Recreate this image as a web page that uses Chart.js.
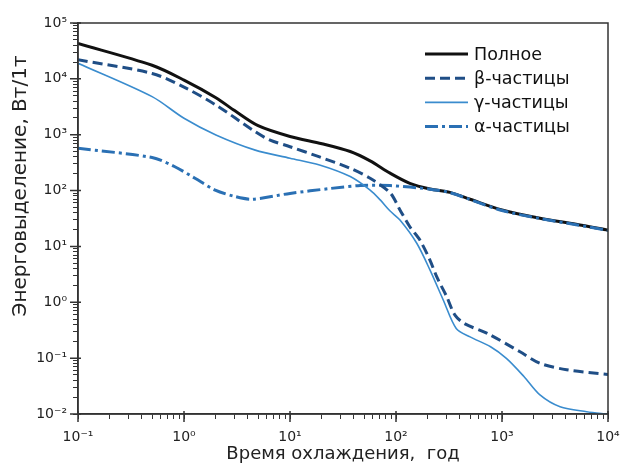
<!DOCTYPE html>
<html>
<head>
<meta charset="utf-8">
<script src="https://cdn.jsdelivr.net/npm/chart.js@4.4.0/dist/chart.umd.min.js"></script>
<style>
html, body { margin: 0; padding: 0; background: #fff; }
</style>
</head>
<body>
<canvas id="heat" width="620" height="470"></canvas>
<script>
// время охлаждения (годы) и энерговыделение (Вт/т)
const totalX = [0.1, 0.5, 1, 2, 3, 5, 10, 20, 37, 57, 88, 135, 209, 323, 500, 1000, 2280, 5000, 10000];
const totalY = [43000, 17500, 9500, 4600, 2700, 1450, 930, 690, 500, 340, 205, 135, 107, 93, 70, 45, 32, 25, 19.5];

const betaX = [0.1, 0.5, 1, 2, 4.7, 6.5, 10, 19, 37, 57, 88, 109, 135, 168, 209, 242, 301, 360, 448, 718, 1480, 2280, 4070, 10000];
const betaY = [22000, 12500, 7100, 3400, 1130, 800, 610, 400, 250, 166, 91, 45, 22.5, 13, 5.7, 2.87, 1.26, 0.59, 0.41, 0.28, 0.13, 0.081, 0.062, 0.051];

const gammaX = [0.1, 0.5, 1, 2, 4.7, 10, 19, 37, 57, 71, 88, 109, 157, 209, 279, 370, 500, 780, 1100, 1610, 2280, 3530, 6300, 10000];
const gammaY = [19000, 4800, 1970, 990, 530, 380, 287, 178, 102, 68, 43, 29.7, 11.4, 3.8, 1.1, 0.34, 0.24, 0.16, 0.099, 0.047, 0.022, 0.0135, 0.011, 0.0098];

const alphaX = [0.1, 0.5, 0.82, 1.27, 1.97, 3.04, 4.4, 10, 24, 46, 88, 209, 323, 500, 1000, 2280, 5000, 10000];
const alphaY = [570, 390, 267, 166, 102, 78, 70, 89, 109, 123, 123, 106, 92, 69, 44, 31.5, 24.5, 19.3];

const seriesNames = ['Полное', 'β-частицы', 'γ-частицы', 'α-частицы'];
const xTitle = 'Время охлаждения,  год';
const yTitle = 'Энерговыделение, Вт/1т';

const FONT = '"DejaVu Sans", "Liberation Sans", sans-serif';
Chart.defaults.font.family = FONT;

function pairs(xs, ys) {
    return xs.map((x, i) => ({ x: x, y: ys[i] }));
}

const supMap = { '-': '⁻', '0': '⁰', '1': '¹', '2': '²', '3': '³', '4': '⁴', '5': '⁵', '6': '⁶', '7': '⁷', '8': '⁸', '9': '⁹' };

function decade(v) {
    const e = Math.log10(v);
    return Math.abs(e - Math.round(e)) < 1e-6 ? Math.round(e) : null;
}

function logLabel(v) {
    const e = decade(v);
    if (e === null) return '';
    return '10' + String(e).split('').map(c => supMap[c]).join('');
}

function tickColor(c) {
    const v = c.tick ? c.tick.value : 1;
    const m = v / Math.pow(10, Math.floor(Math.log10(v) + 1e-9));
    return Math.abs(m - 1.5) < 1e-6 ? 'rgba(0,0,0,0)' : '#333';
}

// рамка сверху и справа + удлинённые штрихи на декадах
const framePlugin = {
    id: 'frame',
    afterDraw(chart) {
        const { ctx, chartArea: a } = chart;
        ctx.save();
        ctx.strokeStyle = '#333';
        ctx.lineWidth = 1.5;
        ctx.strokeRect(a.left, a.top, a.right - a.left, a.bottom - a.top);
        ctx.beginPath();
        chart.scales.x.ticks.forEach(t => {
            if (decade(t.value) === null) return;
            const px = chart.scales.x.getPixelForValue(t.value);
            ctx.moveTo(px, a.bottom - 3);
            ctx.lineTo(px, a.bottom + 8);
        });
        chart.scales.y.ticks.forEach(t => {
            if (decade(t.value) === null) return;
            const py = chart.scales.y.getPixelForValue(t.value);
            ctx.moveTo(a.left + 3, py);
            ctx.lineTo(a.left - 8, py);
        });
        ctx.stroke();
        ctx.restore();
    }
};

// подпись оси Y (смещена вверх, как в оригинале)
const yTitlePlugin = {
    id: 'yTitle',
    afterDraw(chart) {
        const ctx = chart.ctx;
        ctx.save();
        ctx.translate(21, 186);
        ctx.rotate(-Math.PI / 2);
        ctx.font = '20px ' + FONT;
        ctx.fillStyle = '#222';
        ctx.textAlign = 'center';
        ctx.textBaseline = 'middle';
        ctx.fillText(yTitle, 0, 0);
        ctx.restore();
    }
};

// легенда внутри поля графика
const legendPlugin = {
    id: 'insideLegend',
    afterDraw(chart) {
        const { ctx, chartArea } = chart;
        const x0 = chartArea.right - 183;
        const y0 = chartArea.top + 31;
        chart.data.datasets.forEach((ds, i) => {
            const y = y0 + i * 24.2;
            ctx.save();
            ctx.strokeStyle = ds.borderColor;
            ctx.lineWidth = ds.borderWidth;
            ctx.setLineDash(ds.borderDash || []);
            ctx.beginPath();
            ctx.moveTo(x0, y);
            ctx.lineTo(x0 + 43, y);
            ctx.stroke();
            ctx.setLineDash([]);
            ctx.fillStyle = '#111';
            ctx.font = '17.5px ' + FONT;
            ctx.textBaseline = 'middle';
            ctx.fillText(ds.label, x0 + 49, y + 1);
            ctx.restore();
        });
    }
};

new Chart(document.getElementById('heat'), {
    type: 'line',
    data: {
        datasets: [
            {
                label: seriesNames[0],
                data: pairs(totalX, totalY),
                borderColor: '#111111',
                borderWidth: 3,
                order: 1
            },
            {
                label: seriesNames[1],
                data: pairs(betaX, betaY),
                borderColor: '#1f4e86',
                borderWidth: 3,
                borderDash: [10, 5]
            },
            {
                label: seriesNames[2],
                data: pairs(gammaX, gammaY),
                borderColor: '#3a8cce',
                borderWidth: 1.6
            },
            {
                label: seriesNames[3],
                data: pairs(alphaX, alphaY),
                borderColor: '#2a70b4',
                borderWidth: 3,
                borderDash: [13, 4, 3, 4]
            }
        ]
    },
    options: {
        responsive: false,
        animation: false,
        layout: { padding: { left: 0, right: 12, top: 23, bottom: 0 } },
        elements: {
            point: { radius: 0 },
            line: { tension: 0.3, fill: false }
        },
        plugins: {
            legend: { display: false },
            tooltip: { enabled: false }
        },
        scales: {
            x: {
                type: 'logarithmic',
                min: 0.1,
                max: 10000,
                border: { color: '#333', width: 1.5 },
                grid: {
                    drawOnChartArea: false,
                    tickLength: 5,
                    tickColor: tickColor,
                    tickWidth: 1
                },
                ticks: {
                    autoSkip: false,
                    maxRotation: 0,
                    padding: 10,
                    color: '#222',
                    font: { size: 14 },
                    callback: logLabel
                },
                title: {
                    display: true,
                    text: xTitle,
                    color: '#222',
                    font: { size: 18 },
                    padding: { top: 0, bottom: 5 }
                },
                afterFit: s => {
                    s.height = 56;
                    s.paddingLeft = 0;
                    s.paddingRight = 12;
                }
            },
            y: {
                type: 'logarithmic',
                min: 0.01,
                max: 100000,
                border: { color: '#333', width: 1.5 },
                grid: {
                    drawOnChartArea: false,
                    tickLength: 5,
                    tickColor: tickColor,
                    tickWidth: 1
                },
                ticks: {
                    autoSkip: false,
                    padding: 6,
                    color: '#222',
                    font: { size: 14 },
                    callback: logLabel
                },
                afterFit: s => { s.width = 78; }
            }
        }
    },
    plugins: [framePlugin, yTitlePlugin, legendPlugin]
});
</script>
</body>
</html>
